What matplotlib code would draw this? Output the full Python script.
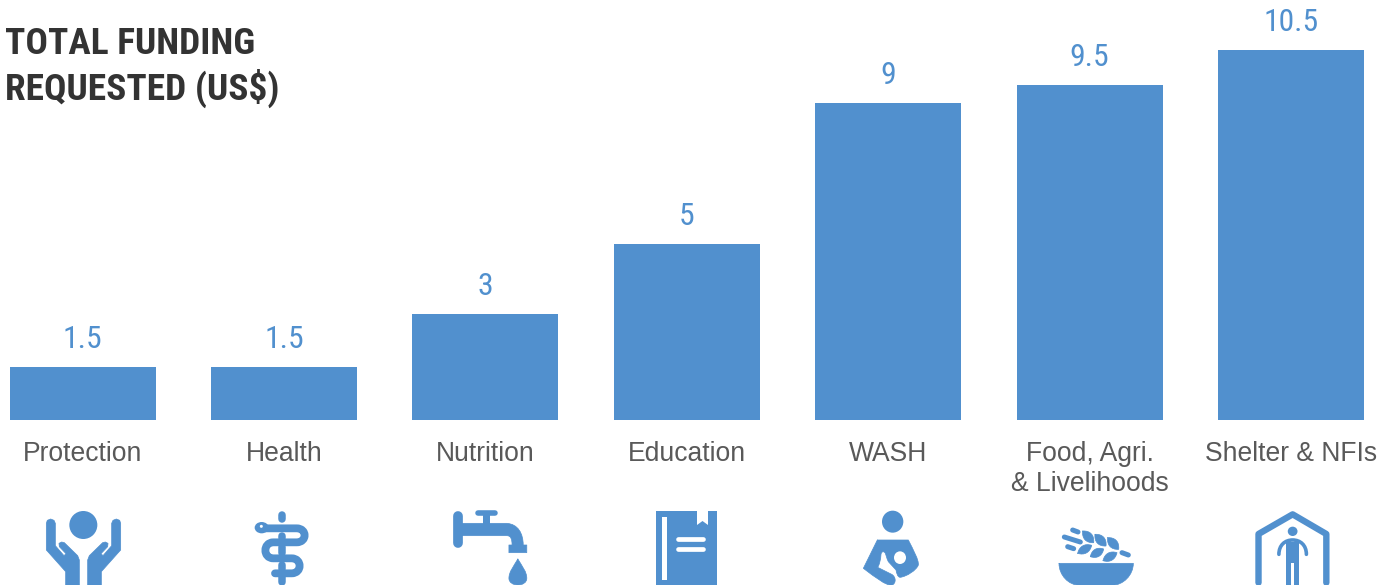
import matplotlib
matplotlib.use("Agg")
import matplotlib.pyplot as plt
from matplotlib import font_manager as fm
from matplotlib.patches import Ellipse, Polygon, PathPatch, Rectangle
from matplotlib.path import Path

categories = ["Protection", "Health", "Nutrition", "Education", "WASH",
              "Food, Agri.\n& Livelihoods", "Shelter & NFIs"]
values = [1.5, 1.5, 3, 5, 9, 9.5, 10.5]
value_labels = ["1.5", "1.5", "3", "5", "9", "9.5", "10.5"]
title_lines = "TOTAL FUNDING\nREQUESTED (US$)"

BLUE = "#5190CE"
W, H = 1395, 588
names = {f.name for f in fm.fontManager.ttflist}
cond = next((n for n in ["Roboto Condensed", "Liberation Sans Narrow", "Roboto"] if n in names), "DejaVu Sans")

fig = plt.figure(figsize=(W / 100, H / 100), dpi=100, facecolor="white")
ax = fig.add_axes([0, 1 - 420 / H, 1, 420 / H])
step = 201.4
xs = list(range(len(categories)))
ax.bar(xs, values, width=146 / step, color=BLUE)
ax.set_xlim(-82.5 / step, (W - 82.5) / step)
ax.set_ylim(0, 420 / (370 / 10.5))
for s in ax.spines.values():
    s.set_visible(False)
ax.set_yticks([])
ax.set_xticks(xs)
ax.set_xticklabels(categories, fontsize=19.1, family="Liberation Sans", color="#595959", linespacing=1.2)
ax.tick_params(axis="x", length=0, pad=15.2)
for x, v, t in zip(xs, values, value_labels):
    ax.annotate(t, (x, v), xytext=(0, 9.3), textcoords="offset points", ha="center", va="bottom",
                fontsize=22.8, family=cond, fontweight="normal", color=BLUE)
fig.text(5 / W, 1 - 100 / H, title_lines, fontsize=26.9, family=cond, fontweight="bold",
         color="#333333", ha="left", va="baseline", linespacing=1.22)

# ---- icons, in pixel space ----
ov = fig.add_axes([0, 0, 1, 1], facecolor="none")
ov.set_xlim(0, W)
ov.set_ylim(H, 0)
ov.axis("off")

def z1(p):
    return (p[0] / 2.24, 500 + p[1] / 3)

def z2(p):
    return (700 + p[0] / 2.256, 500 + p[1] / 3)

def crop(x0):
    return lambda p: (x0 + p[0] / 3, 505 + p[1] / 3)

def poly(pts, m, color=BLUE, **kw):
    ov.add_patch(Polygon([m(p) for p in pts], closed=True, fc=color, ec=color, lw=0.5, joinstyle="round", **kw))

def stroke(pts, m, lw, color=BLUE):
    xx, yy = zip(*[m(p) for p in pts])
    ov.plot(xx, yy, color=color, lw=lw, solid_capstyle="round", solid_joinstyle="round")

def curve(start, segs, m, fill=True, lw=0.5, color=BLUE):
    v = [m(start)]
    c = [Path.MOVETO]
    for s in segs:
        if len(s) == 1:
            v.append(m(s[0])); c.append(Path.LINETO)
        else:
            v += [m(q) for q in s]; c += [Path.CURVE4] * 3
    ov.add_patch(PathPatch(Path(v, c), fc=color if fill else "none", ec=color, lw=lw,
                           capstyle="round", joinstyle="round"))

def ell(cx, cy, w, h, m, color=BLUE):
    x, y = m((cx, cy))
    x1, y1 = m((cx + w, cy + h))
    ov.add_patch(Ellipse((x, y), x1 - x, y1 - y, fc=color, ec="none"))

def leaf(a, b, width, m):
    dx, dy = b[0] - a[0], b[1] - a[1]
    n = (dx * dx + dy * dy) ** 0.5
    ox, oy = -dy / n * width / 1.5, dx / n * width / 1.5
    c = lambda t, s: (a[0] + dx * t + ox * s, a[1] + dy * t + oy * s)
    curve(a, [[c(0.3, 1), c(0.7, 1), b], [c(0.7, -1), c(0.3, -1), a]], m)

# Protection: hands
m = crop(30)
ell(160, 60, 84, 84, m)
left = [(49, 135), (49, 55), (52, 46), (62, 42), (72, 46), (76, 55), (76, 122), (102, 152), (108, 146),
        (88, 125), (87, 115), (95, 111), (103, 113), (143, 152), (148, 165), (148, 245), (107, 245), (107, 200)]
poly(left, m)
poly([(321 - x, y) for x, y in left], m)

# Health: staff and snake
m = crop(240)
for y0, y1 in [(30, 42), (92, 100), (125, 145), (180, 192), (215, 230)]:
    stroke([(127, y0), (127, y1)], m, 5.4)
curve((70, 70), [[(170, 70)], [(202, 70), (202, 112), (170, 112)], [(100, 112)],
                 [(68, 112), (68, 160), (100, 160)], [(155, 160)],
                 [(187, 160), (187, 205), (155, 205)], [(105, 205)]], m, fill=False, lw=5.6)
ell(65, 68, 42, 34, m)
ell(64, 64, 9, 9, m, color="white")

# Nutrition: tap
stroke([(1027, 48), (1027, 130)], z1, 7)
stroke([(1070, 40), (1108, 40)], z1, 4)
ov.add_patch(Rectangle(z1((1082, 42)), 16 / 2.24, 30 / 3, fc=BLUE, ec="none"))
curve((1030, 70), [[(1100, 70), (1120, 70), (1135, 70)], [(1160, 72), (1172, 100), (1172, 135)],
                   [(1180, 135)], [(1180, 158)], [(1140, 158)], [(1140, 135)], [(1147, 135)],
                   [(1147, 118), (1145, 107), (1135, 107)], [(1030, 107)]], z1)
curve((1160, 177), [[(1170, 200), (1180, 215), (1180, 235)], [(1180, 248), (1170, 255), (1160, 255)],
                    [(1150, 255), (1140, 248), (1140, 235)], [(1140, 215), (1150, 200), (1160, 177)]], z1)

# Education: book
ov.add_patch(Rectangle((656, 511), 61, 76, fc=BLUE, ec="none"))
ov.add_patch(Rectangle((662.2, 516.7), 4.4, 63.3, fc="white", ec="none"))
ov.add_patch(Polygon([(697, 510), (708, 510), (708, 525), (702.5, 521), (697, 525)], fc="white", ec="none"))
stroke([(678, 538.5), (703, 538.5)], lambda p: p, 3.4, color="white")
stroke([(678, 549), (703, 549)], lambda p: p, 3.4, color="white")

# WASH: mother and child
m = crop(850)
ell(128, 50, 64, 66, m)
curve((82, 105), [[(175, 105)], [(190, 135), (207, 165), (205, 180)], [(200, 195), (170, 215), (150, 217)],
                  [(142, 215), (140, 205), (138, 195)], [(115, 170)], [(110, 160), (108, 150), (106, 145)],
                  [(102, 138), (95, 138), (93, 148)], [(92, 165), (88, 180), (83, 187)], [(125, 208)],
                  [(138, 215), (140, 235), (125, 241)], [(105, 240), (80, 220), (40, 190)], [(82, 105)]], m)
ell(150, 158, 36, 38, m, color="white")

# Food: bowl and grain
m = crop(1045)
curve((42, 175), [[(265, 175)], [(265, 210), (235, 241), (200, 241)], [(105, 241)],
                  [(70, 241), (42, 210), (42, 175)]], m)
for a, b in [((83, 75), (99, 81)), ((58, 96), (106, 111)), ((68, 125), (86, 131)), ((231, 143), (250, 150))]:
    stroke([a, b], m, 3.6)
for a, b in [((113, 78), (146, 113)), ((150, 88), (183, 123)), ((188, 98), (221, 133))]:
    leaf(a, b, 26, m)
for a, b in [((98, 145), (140, 121)), ((136, 155), (176, 132)), ((174, 167), (216, 143))]:
    leaf(a, b, 24, m)

# Shelter: house and person
stroke([(1260, 248), (1260, 102), (1337, 43), (1413, 102), (1413, 248)], z2, 4.6)
ell(1337, 94, 22, 28, z2)
curve((1306, 163), [[(1306, 135), (1320, 120), (1337, 120)], [(1354, 120), (1368, 135), (1368, 163)]], z2, fill=False, lw=2.6)
ov.add_patch(Rectangle(z2((1323, 125)), 29 / 2.256, 135 / 3, fc=BLUE, ec="none"))
ov.add_patch(Rectangle(z2((1333, 190)), 8 / 2.256, 70 / 3, fc="white", ec="none"))

# Reference crops icons at y=585
ov.add_patch(Rectangle((0, 585), W, 3, fc="white", ec="none", zorder=10))

fig.savefig("out.png", dpi=100)
